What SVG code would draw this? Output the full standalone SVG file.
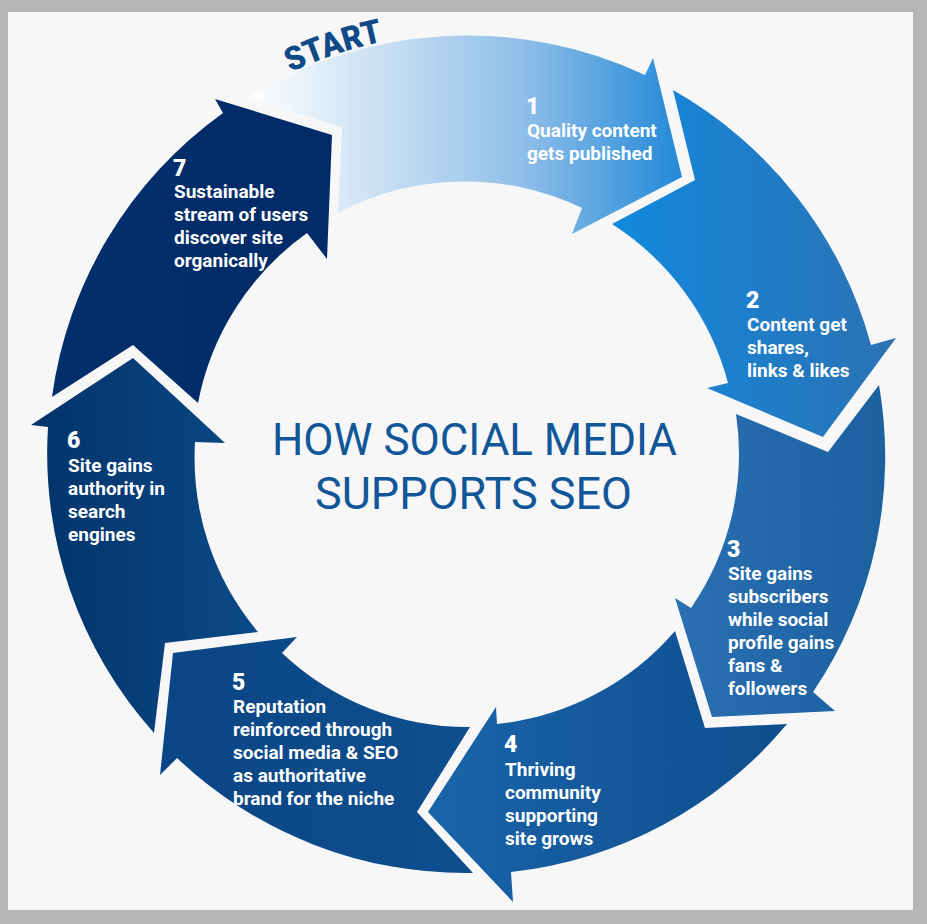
<svg xmlns="http://www.w3.org/2000/svg" width="927" height="924" viewBox="0 0 927 924">
  <defs>
    <linearGradient id="g1" gradientUnits="userSpaceOnUse" x1="247" y1="0" x2="690" y2="0">
      <stop offset="0" stop-color="#ffffff"/>
      <stop offset="0.35" stop-color="#c0dbf2"/>
      <stop offset="0.62" stop-color="#90bfe9"/>
      <stop offset="1" stop-color="#1d86d6"/>
    </linearGradient>
    <linearGradient id="g2" gradientUnits="userSpaceOnUse" x1="612" y1="0" x2="896" y2="0">
      <stop offset="0" stop-color="#1289dd"/>
      <stop offset="1" stop-color="#2b72b4"/>
    </linearGradient>
    <linearGradient id="g3" gradientUnits="userSpaceOnUse" x1="675" y1="0" x2="885" y2="0">
      <stop offset="0" stop-color="#2a70b2"/>
      <stop offset="1" stop-color="#1b609f"/>
    </linearGradient>
    <linearGradient id="g4" gradientUnits="userSpaceOnUse" x1="428" y1="0" x2="787" y2="0">
      <stop offset="0" stop-color="#1964a8"/>
      <stop offset="1" stop-color="#0e4e8e"/>
    </linearGradient>
    <linearGradient id="g5" gradientUnits="userSpaceOnUse" x1="160" y1="0" x2="473" y2="0">
      <stop offset="0" stop-color="#0a4585"/>
      <stop offset="1" stop-color="#0f4f8f"/>
    </linearGradient>
    <linearGradient id="g6" gradientUnits="userSpaceOnUse" x1="31" y1="0" x2="258" y2="0">
      <stop offset="0" stop-color="#02336a"/>
      <stop offset="1" stop-color="#0b4a87"/>
    </linearGradient>
    <linearGradient id="g7" gradientUnits="userSpaceOnUse" x1="52" y1="0" x2="332" y2="0">
      <stop offset="0" stop-color="#022f6b"/>
      <stop offset="1" stop-color="#012b68"/>
    </linearGradient>
    <path id="startArc" d="M 290.5,72.4 A 421 421 0 0 1 429.3,34.6"/>
  </defs>
  <style>
    .num { font-family: Roboto, "Liberation Sans", sans-serif; font-weight: 900; font-size: 23px; fill: #ffffff; }
    .lbl { font-family: Roboto, "Liberation Sans", sans-serif; font-weight: 700; font-size: 19px; fill: #ffffff; }
    .title { font-family: Roboto, "Liberation Sans", sans-serif; font-weight: 400; font-size: 45px; fill: #12569a; }
    .start { font-family: Roboto, "Liberation Sans", sans-serif; font-weight: 900; font-size: 33px; fill: #0d4a87; }
  </style>
  <rect x="0" y="0" width="927" height="924" fill="#b6b6b6"/>
  <rect x="8" y="12" width="905" height="898" fill="#f7f7f7"/>

  <g id="connectors"/>

  <g id="start-label">
    <text class="start"><textPath href="#startArc" textLength="98" lengthAdjust="spacingAndGlyphs">START</textPath></text>
  </g>

  <g id="node1">
    <path d="M 247,98 A 419 419 0 0 1 645,75 L 653,58 L 682,177 L 572,234 L 582,208 A 271 271 0 0 0 338,213 L 342,127 Z" fill="url(#g1)"/>
    <text class="num" x="526" y="114">1</text>
    <text class="lbl" x="527" y="137">Quality content</text>
    <text class="lbl" x="527" y="160">gets published</text>
  </g>

  <g id="node2">
    <path d="M 673,90 A 419 419 0 0 1 871,345 L 896,338 L 823,437 L 707,388 L 728,383 A 271 271 0 0 0 612,224 L 695,180 Z" fill="url(#g2)"/>
    <text class="num" x="746" y="308">2</text>
    <text class="lbl" x="747" y="331">Content get</text>
    <text class="lbl" x="747" y="354">shares,</text>
    <text class="lbl" x="747" y="377">links &amp; likes</text>
  </g>

  <g id="node3">
    <path d="M 879,385 A 419 419 0 0 1 813,692 L 835,711 L 712,717 L 675,598 L 691,608 A 271 271 0 0 0 736,414 L 828,452 Z" fill="url(#g3)"/>
    <text class="num" x="727" y="557">3</text>
    <text class="lbl" x="728" y="580">Site gains</text>
    <text class="lbl" x="728" y="603">subscribers</text>
    <text class="lbl" x="728" y="626">while social</text>
    <text class="lbl" x="728" y="649">profile gains</text>
    <text class="lbl" x="728" y="672">fans &amp;</text>
    <text class="lbl" x="728" y="695">followers</text>
  </g>

  <g id="node4">
    <path d="M 787,724 A 419 419 0 0 1 511,872 L 513,902 L 428,812 L 496,707 L 497,724 A 271 271 0 0 0 675,631 L 705,728 Z" fill="url(#g4)"/>
    <text class="num" x="504" y="752">4</text>
    <text class="lbl" x="505" y="776">Thriving</text>
    <text class="lbl" x="505" y="799">community</text>
    <text class="lbl" x="505" y="822">supporting</text>
    <text class="lbl" x="505" y="845">site grows</text>
  </g>

  <g id="node5">
    <path d="M 473,873 A 419 419 0 0 1 177,758 L 160,775 L 173,653 L 297,637 L 282,653 A 271 271 0 0 0 470,727 L 417,812 Z" fill="url(#g5)"/>
    <text class="num" x="232" y="690">5</text>
    <text class="lbl" x="233" y="713">Reputation</text>
    <text class="lbl" x="233" y="736">reinforced through</text>
    <text class="lbl" x="233" y="759">social media &amp; SEO</text>
    <text class="lbl" x="233" y="782">as authoritative</text>
    <text class="lbl" x="233" y="805">brand for the niche</text>
  </g>

  <g id="node6">
    <path d="M 154,733 A 419 419 0 0 1 48,427 L 31,425 L 133,358 L 225,443 L 195,442 A 271 271 0 0 0 258,632 L 165,643 Z" fill="url(#g6)"/>
    <text class="num" x="67" y="448">6</text>
    <text class="lbl" x="68" y="472">Site gains</text>
    <text class="lbl" x="68" y="495">authority in</text>
    <text class="lbl" x="68" y="518">search</text>
    <text class="lbl" x="68" y="541">engines</text>
  </g>

  <g id="node7">
    <path d="M 52,397 A 419 419 0 0 1 223,113 L 215,99 L 332,135 L 327,259 L 307,233 A 271 271 0 0 0 198,403 L 133,345 Z" fill="url(#g7)"/>
    <text class="num" x="173" y="176">7</text>
    <text class="lbl" x="174" y="198">Sustainable</text>
    <text class="lbl" x="174" y="221">stream of users</text>
    <text class="lbl" x="174" y="244">discover site</text>
    <text class="lbl" x="174" y="267">organically</text>
  </g>

  <g id="title">
    <text class="title" x="272" y="455" textLength="405" lengthAdjust="spacingAndGlyphs">HOW SOCIAL MEDIA</text>
    <text class="title" x="315" y="509" textLength="317" lengthAdjust="spacingAndGlyphs">SUPPORTS SEO</text>
  </g>
</svg>
